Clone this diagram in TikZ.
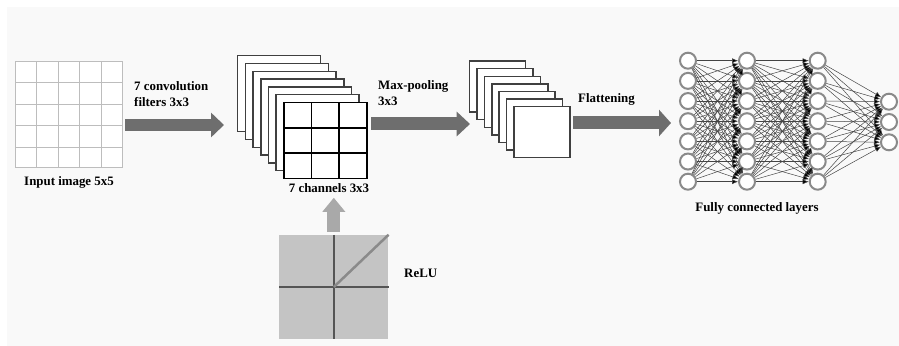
\documentclass[tikz,border=0pt]{standalone}
\usepackage{fontspec}
\setmainfont{Liberation Serif}
\usetikzlibrary{arrows.meta,calc}
\definecolor{fond}{HTML}{F9F9F9}
\definecolor{grisgrille}{HTML}{BDBDBD}
\definecolor{griscadre}{HTML}{404040}
\definecolor{grisfleche}{HTML}{6E6E6E}
\definecolor{grisclair}{HTML}{A9A9A9}
\definecolor{grisneurone}{HTML}{8A8A8A}
\definecolor{grislien}{HTML}{444444}
\definecolor{grisrelu}{HTML}{C4C4C4}
\definecolor{grisaxe}{HTML}{555555}
\tikzset{
  titre/.style={font=\bfseries\fontsize{11}{13.6}\selectfont, inner sep=0pt, align=left},
  carte/.style={draw=griscadre, fill=white, line width=0.045cm, inner sep=0pt, outer sep=0pt},
  grille/.style={draw=grisgrille, line width=0.03cm},
  neurone/.style={circle, draw=grisneurone, fill=white, line width=0.06cm, minimum size=0.48cm, inner sep=0pt},
  lien/.style={draw=grislien, line width=0.015cm, -{Latex[length=0.18cm,width=0.15cm,fill=black]}},
  grosse/.style={draw=grisfleche},
  axe/.style={draw=grisaxe, line width=0.045cm},
  courbe/.style={line width=0.075cm}
}
\begin{document}
\begin{tikzpicture}[x=0.03cm,y=-0.03cm]
\useasboundingbox (0,0) rectangle (899,346);
\fill[white] (0,0) rectangle (899,346);
\fill[fond] (7,7) rectangle (899,346);%fond
% image d'entree
\node[draw=grisgrille, fill=white, line width=0.03cm, minimum size=3.18cm, inner sep=0pt] (entree) at (69,115) {};
\foreach \k in {1,...,4} {
  \draw[grille] ($(entree.north west)!\k/5!(entree.north east)$) -- ($(entree.south west)!\k/5!(entree.south east)$);
  \draw[grille] ($(entree.north west)!\k/5!(entree.south west)$) -- ($(entree.north east)!\k/5!(entree.south east)$);
}
\node[titre] (lentree) at (69,182) {Input image 5x5};
% convolution
\coordinate (d1) at (125,125);
\coordinate (f1) at (224,125);
\draw[grosse, line width=0.36cm, -{Triangle[length=0.39cm,width=0.72cm]}] (d1) -- (f1);
\node[titre, anchor=west] (conv) at (134,94) {7 convolution\\filters 3x3};
\foreach \i in {0,...,6}
  \node[carte, minimum width=2.49cm, minimum height=2.28cm] (c\i) at ({279.2+7.7*\i},{93.7+7.8*\i}) {};
\foreach \k in {1,2} {
  \draw[black, line width=0.045cm] ($(c6.north west)!\k/3!(c6.north east)$) -- ($(c6.south west)!\k/3!(c6.south east)$);
  \draw[black, line width=0.045cm] ($(c6.north west)!\k/3!(c6.south west)$) -- ($(c6.north east)!\k/3!(c6.south east)$);
}
\draw[black, line width=0.045cm] (c6.north west) rectangle (c6.south east);
\node[titre] (lcanaux) at (329,188) {7 channels 3x3};
% relu
\node[fill=grisrelu, minimum width=3.27cm, minimum height=3.12cm, inner sep=0pt] (relu) at (333.8,287) {};
\draw[axe] (relu.north) -- (relu.south);
\draw[axe] (relu.west) -- (relu.east);
\draw[courbe, grisaxe] (relu.west) -- (relu.center);
\draw[courbe, grisneurone] (relu.center) -- (relu.north east);
\node[titre, anchor=west] (lrelu) at (404,273) {ReLU};
\coordinate (haut) at ($(relu.north)+(0,-37)$);
\draw[draw=grisclair, line width=0.39cm, shorten <=0.09cm, -{Triangle[length=0.42cm,width=0.66cm]}] (relu.north) -- (haut);
% max-pooling
\coordinate (d2) at (371,124);
\coordinate (f2) at (470,124);
\draw[grosse, line width=0.39cm, -{Triangle[length=0.4cm,width=0.72cm]}] (d2) -- (f2);
\node[titre, anchor=west] (pool) at (378,93) {Max-pooling\\3x3};
\foreach \i in {0,...,6}
  \node[carte, minimum width=1.68cm, minimum height=1.53cm] (p\i) at ({497.6+7.4*\i},{86.6+7.6*\i}) {};
% flattening
\coordinate (d3) at (573,123);
\coordinate (f3) at (671,123);
\draw[grosse, line width=0.39cm, -{Triangle[length=0.36cm,width=0.78cm]}] (d3) -- (f3);
\node[titre, anchor=west] (flat) at (578,99) {Flattening};
% couches
\foreach \j in {0,...,6} {
  \node[neurone] (n1\j) at (688,{60.7+20.17*\j}) {};
  \node[neurone] (n2\j) at (747,{60.7+20.17*\j}) {};
  \node[neurone] (n3\j) at (817.7,{60.7+20.17*\j}) {};
}
\foreach \j in {0,1,2}
  \node[neurone] (n4\j) at (889,{101.7+20.3*\j}) {};
\foreach \a in {0,...,6} {
  \foreach \b in {0,...,6} {
    \draw[lien] (n1\a) -- (n2\b);
    \draw[lien] (n2\a) -- (n3\b);
  }
  \foreach \b in {0,1,2}
    \draw[lien] (n3\a) -- (n4\b);
}
\node[titre] (lcouches) at (757,208) {Fully connected layers};
\end{tikzpicture}
\end{document}
